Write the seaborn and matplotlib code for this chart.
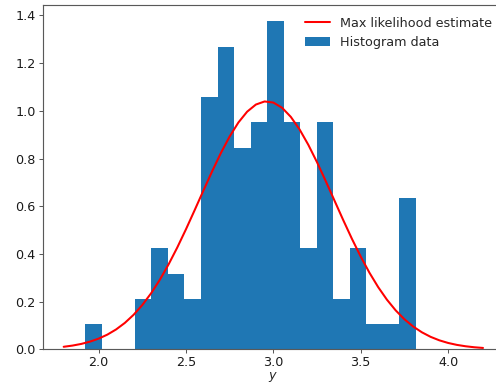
import numpy as np
import pandas as pd
import matplotlib
matplotlib.use("Agg")
import matplotlib.pyplot as plt
import seaborn as sns

# Histogram data (20 equal-width bins, 100 samples)
bin_lo = 1.924
bin_hi = 3.815
n_bins = 20
counts = [1, 0, 0, 2, 4, 3, 2, 10, 12, 8, 9, 13, 9, 4, 9, 2, 4, 1, 1, 6]

# Max-likelihood curve values
curve_x = [1.80, 1.85, 1.90, 1.95, 2.00, 2.05, 2.10, 2.15, 2.20, 2.25,
           2.30, 2.35, 2.40, 2.45, 2.50, 2.55, 2.60, 2.65, 2.70, 2.75,
           2.80, 2.85, 2.90, 2.95, 3.00, 3.05, 3.10, 3.15, 3.20, 3.25,
           3.30, 3.35, 3.40, 3.45, 3.50, 3.55, 3.60, 3.65, 3.70, 3.75,
           3.80, 3.85, 3.90, 3.95, 4.00, 4.05, 4.10, 4.15, 4.20]
curve_y = [0.0106, 0.0156, 0.0225, 0.0321, 0.0448, 0.0616, 0.0833, 0.1107, 0.1446, 0.1858,
           0.2346, 0.2913, 0.3556, 0.4268, 0.5036, 0.5842, 0.6663, 0.7471, 0.8237, 0.8927,
           0.9513, 0.9966, 1.0265, 1.0395, 1.0349, 1.0130, 0.9748, 0.9223, 0.8579, 0.7846,
           0.7054, 0.6236, 0.5419, 0.4630, 0.3889, 0.3212, 0.2608, 0.2082, 0.1634, 0.1261,
           0.0957, 0.0714, 0.0523, 0.0377, 0.0267, 0.0186, 0.0128, 0.0086, 0.0057]

sns.set_style("ticks", {"axes.edgecolor": "0.35"})
plt.rcParams["font.family"] = ["DejaVu Sans"]
plt.rcParams["font.size"] = 10

dpi = 92
fig = plt.figure(figsize=(496 / dpi, 385 / dpi), dpi=dpi)
ax = fig.add_axes([0.0861, 0.0927, 0.930, 0.8943])

edges = np.linspace(bin_lo, bin_hi, n_bins + 1)
centers = (edges[:-1] + edges[1:]) / 2
hist_df = pd.DataFrame({"y": centers, "w": counts})
curve_df = pd.DataFrame({"x": curve_x, "pdf": curve_y})

sns.lineplot(data=curve_df, x="x", y="pdf", color="red", linewidth=1.6,
             sort=False, ax=ax, label="Max likelihood estimate")
sns.histplot(data=hist_df, x="y", weights="w", bins=n_bins, binrange=(bin_lo, bin_hi),
             stat="density", color="#1f77b4", alpha=1, linewidth=0, ax=ax,
             label="Histogram data")

ax.set_xlabel("$y$", labelpad=0.5)
ax.set_ylabel("")
ax.set_xticks([2.0, 2.5, 3.0, 3.5, 4.0])
ax.set_yticks([0.0, 0.2, 0.4, 0.6, 0.8, 1.0, 1.2, 1.4])
ax.set_xlim(1.68, 4.32)
ax.set_ylim(0, 1.444)
ax.tick_params(axis="both", length=3, width=0.8, pad=2.5, color="0.35", labelcolor="0.1")
for s in ax.spines.values():
    s.set_linewidth(0.9)

ax.legend(loc="upper right", frameon=False)

fig.savefig("out.png", dpi=dpi)
